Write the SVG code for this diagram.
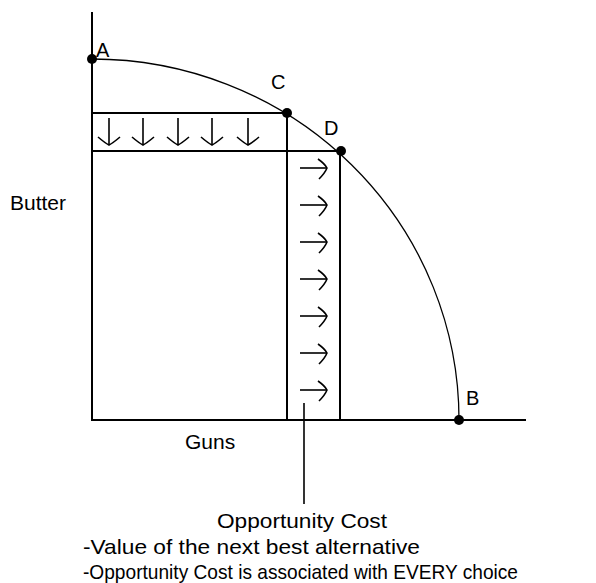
<svg xmlns="http://www.w3.org/2000/svg" width="596" height="583" viewBox="0 0 596 583">
<style>
.ln{stroke:#000;stroke-width:2;fill:none}
.cv{stroke:#000;stroke-width:1.3;fill:none}
.ar{stroke:#000;stroke-width:1.6;fill:none}
.t{font-family:"Liberation Sans",Arial,sans-serif;font-size:21px;fill:#000}
.lb{font-family:"Liberation Sans",Arial,sans-serif;font-size:20px;fill:#000}
.dot{fill:#000}
</style>
<defs>
<g id="ra" class="ar"><path d="M0,0 H27"/><path d="M18,-9 Q25,-4 27,0 Q25,5 19,11"/></g>
<g id="da" class="ar"><path d="M0,0 V27"/><path d="M-11,19 Q-4,25 0,27 Q4,25 11,19"/></g>
</defs>
<rect width="596" height="583" fill="#fff"/>
<g id="axes">
<path class="ln" d="M92,12 V420 H526"/>
</g>
<g id="connectors">
<path class="cv" d="M92,59 A367,361 0 0 1 459,420"/>
<path class="ln" d="M92,113 H287 V420"/>
<path class="ln" d="M92,151 H340 V420"/>
<path class="ar" d="M304,403 V504"/>
</g>
<g id="down-arrows">
<use href="#da" x="109" y="118"/>
<use href="#da" x="143" y="118"/>
<use href="#da" x="178" y="118"/>
<use href="#da" x="212" y="118"/>
<use href="#da" x="248" y="118"/>
</g>
<g id="right-arrows">
<use href="#ra" x="300" y="168"/>
<use href="#ra" x="300" y="205"/>
<use href="#ra" x="300" y="242"/>
<use href="#ra" x="300" y="279"/>
<use href="#ra" x="300" y="316"/>
<use href="#ra" x="300" y="353"/>
<use href="#ra" x="300" y="390"/>
</g>
<g id="point-A"><circle class="dot" cx="92" cy="59" r="5"/><text class="lb" x="96" y="57">A</text></g>
<g id="point-C"><circle class="dot" cx="287" cy="113" r="5"/><text class="lb" x="271" y="89">C</text></g>
<g id="point-D"><circle class="dot" cx="341" cy="151" r="5"/><text class="lb" x="324" y="135">D</text></g>
<g id="point-B"><circle class="dot" cx="459" cy="420" r="5"/><text class="lb" x="466" y="405">B</text></g>
<g id="label-butter"><text class="t" x="10" y="210">Butter</text></g>
<g id="label-guns"><text class="t" x="185" y="449">Guns</text></g>
<g id="note">
<text class="t" x="302" y="528" text-anchor="middle" textLength="170" lengthAdjust="spacingAndGlyphs">Opportunity Cost</text>
<text class="t" x="83" y="554" textLength="337" lengthAdjust="spacingAndGlyphs">-Value of the next best alternative</text>
<text class="t" x="83" y="579" textLength="435" lengthAdjust="spacingAndGlyphs">-Opportunity Cost is associated with EVERY choice</text>
</g>
</svg>
